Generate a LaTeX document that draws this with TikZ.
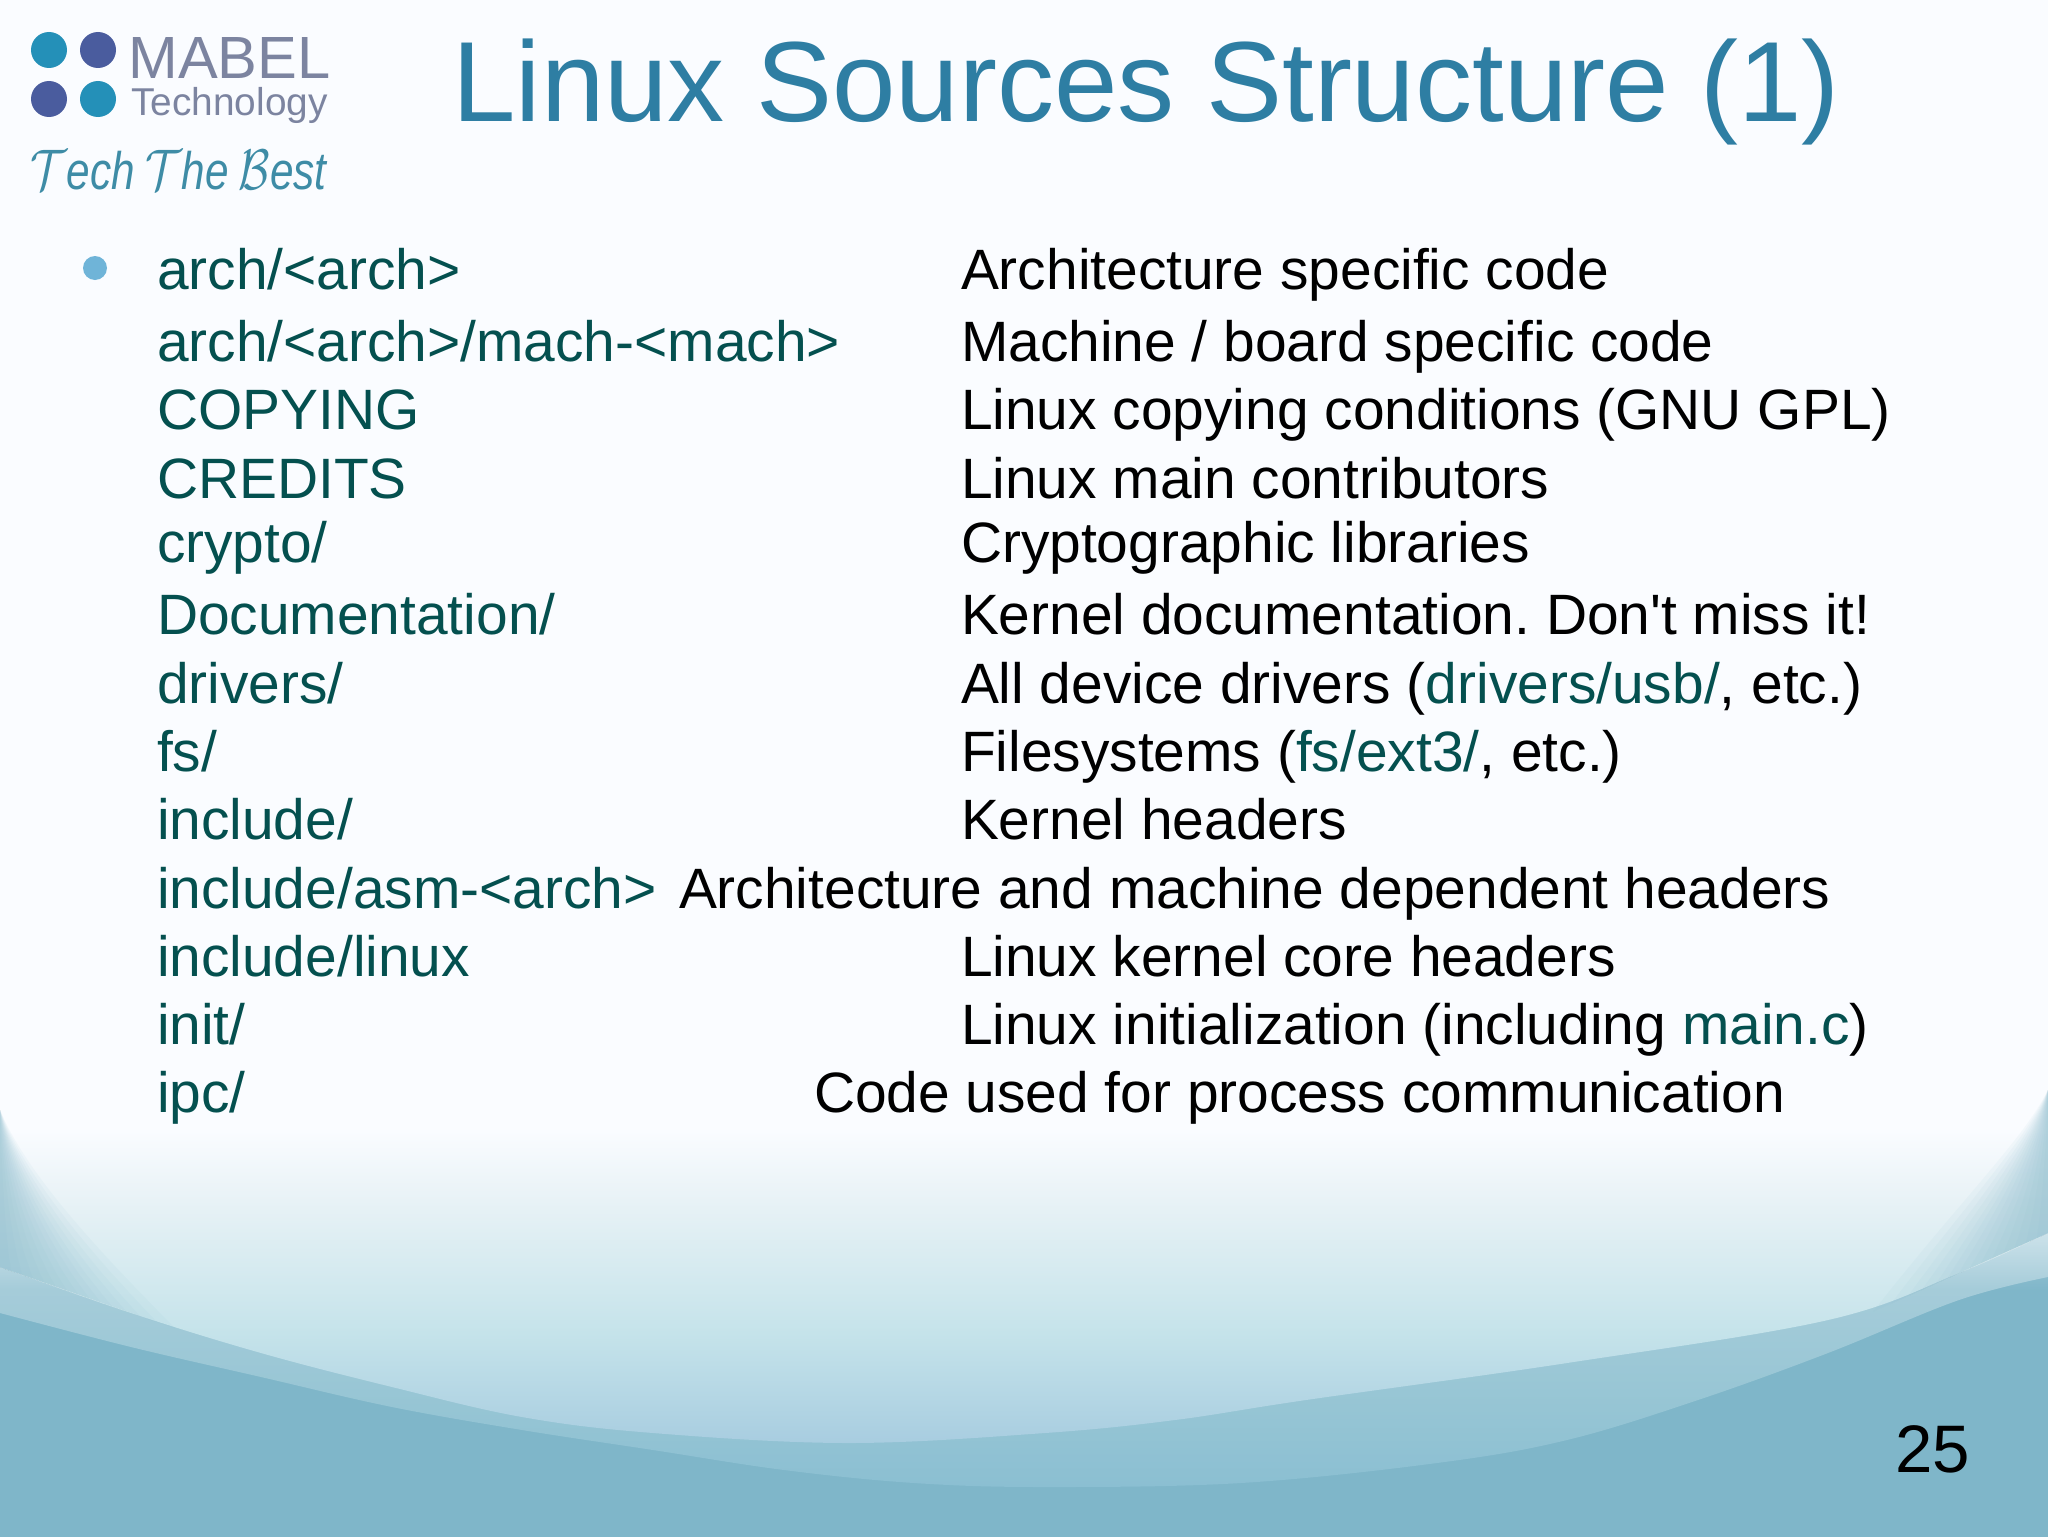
\documentclass[tikz,border=0pt]{standalone}
\usepackage{fontspec}
\setmainfont{Liberation Sans}
\usetikzlibrary{calc}
\definecolor{tealtext}{HTML}{04504F}
\definecolor{titleblue}{HTML}{2E7EA3}
\definecolor{bulletblue}{HTML}{6FB4D8}
\definecolor{dotteal}{HTML}{2490B8}
\definecolor{dotindigo}{HTML}{4A5C9E}
\definecolor{logogrey}{HTML}{7C84A0}
\definecolor{scriptteal}{HTML}{3E8CA6}
\definecolor{edgeteal}{HTML}{7FB6C9}
\definecolor{lensA}{HTML}{A8CDE0}
\definecolor{lensB}{HTML}{C5E3EA}
\definecolor{lensC}{HTML}{E8F2F6}
\definecolor{lensD}{HTML}{FAFCFF}
\definecolor{midA}{HTML}{96C5D4}
\definecolor{midB}{HTML}{8BBFD2}
\pgfdeclareverticalshading{basebg}{100bp}{
 color(0bp)=(edgeteal); color(25bp)=(edgeteal);
 color(33bp)=(edgeteal);
 color(36bp)=(edgeteal!50!white);
 color(38.4bp)=(lensD);
 color(75bp)=(lensD); color(100bp)=(lensD)}
% second lens: bbox y 1090..1487
\pgfdeclareverticalshading{lenstwo}{100bp}{
 color(0bp)=(midB); color(25bp)=(midB);
 color(35bp)=(midA);
 color(50bp)=(edgeteal!70!white);
 color(62bp)=(lensC);
 color(72bp)=(lensD); color(100bp)=(lensD)}
% inner lens: bbox y 1090..1443
\pgfdeclareverticalshading{lensone}{100bp}{
 color(0bp)=(lensA); color(25bp)=(lensA);
 color(40.6bp)=(lensB);
 color(59.4bp)=(lensC);
 color(69.3bp)=(lensD); color(100bp)=(lensD)}
\tikzset{
 rowtext/.style={anchor=base west,inner sep=0pt,outer sep=0pt,yshift=0.5pt,font=\fontsize{28.45}{30}\selectfont},
 pathtext/.style={rowtext,text=tealtext},
 desctext/.style={rowtext,text=black},
 logodot/.style={circle,inner sep=0pt,minimum size=18pt},
 sidefade/.style={fill=edgeteal,fill opacity=0.06,draw=none}
}
\newcommand{\tl}[1]{\textcolor{tealtext}{#1}}
\frenchspacing
\begin{document}
\begin{tikzpicture}[x=0.5pt,y=-0.5pt]
\useasboundingbox (0,0) rectangle (2048,1536);
\shade[shading=basebg] (0,0) rectangle (2048,1536);
\shade[shading=lenstwo] (2048,1090) -- (0,1090) -- plot[smooth,tension=0.6] coordinates {(0,1313) (131,1347) (261,1377) (392,1407) (522,1430) (653,1450) (784,1470) (914,1483) (1045,1487) (1241,1483) (1437,1463) (1567,1440) (1698,1400) (1828,1353) (1959,1300) (2048,1277)} -- cycle;
\shade[shading=lensone] (2048,1090) -- (0,1090) -- plot[smooth,tension=0.6] coordinates {(0,1267) (131,1313) (261,1353) (392,1387) (522,1417) (653,1433) (849,1443) (1045,1433) (1175,1420) (1306,1400) (1567,1363) (1828,1320) (1959,1273) (2048,1233)} -- cycle;
% soft darkening along both sides, closing on the arc of the inner lens
\foreach \w in {8,16,24,32,40,48,56,64,72,80,90,100,112,125}{
  \path[sidefade] (0,1110) .. controls ({0.2*\w},1170) and ({0.7*\w},1240) .. ({1.4*\w},{1267+0.49*\w}) -- (0,1267) -- cycle;
  \path[sidefade] (2048,1090) .. controls ({2048-0.2*\w},1140) and ({2048-0.7*\w},1200) .. ({2048-1.4*\w},{1233+0.63*\w}) -- (2048,1233) -- cycle;
}
% logo
\node[logodot,fill=dotteal] (d1) at (49,50) {};
\node[logodot,fill=dotindigo] (d2) at (98,50) {};
\node[logodot,fill=dotindigo] (d3) at (49,99) {};
\node[logodot,fill=dotteal] (d4) at (98,99) {};
\node[anchor=base west,inner sep=0pt,text=logogrey,font=\fontsize{29.8}{32}\selectfont] (mabel) at (128,79) {MABEL};
\node[anchor=base west,inner sep=0pt,text=logogrey,font=\fontsize{19.4}{22}\selectfont] (tech) at (131,115) {Technology};
\node[anchor=base west,inner sep=0pt,text=scriptteal,font=\fontsize{23}{28}\selectfont\itshape] (script) at (30,189) {\scalebox{0.92}[1.15]{$\mathcal{T}$ech\hspace{-1pt} $\mathcal{T}$he\hspace{-1pt} $\mathcal{B}$est}};
% title
\node[anchor=base west,inner sep=0pt,text=titleblue,font=\fontsize{57}{60}\selectfont] (title) at (452,121) {Linux Sources Structure (1)};
\node[circle,fill=bulletblue,inner sep=0pt,minimum size=12pt] (bullet) at (95,268) {};
% rows
\node[pathtext] (p1) at (157,290) {arch/<arch>};
\node[desctext] (q1) at (961,290) {Architecture specific code};
\node[pathtext] (p2) at (157,362) {arch/<arch>/mach-<mach>};
\node[desctext] (q2) at (961,362) {Machine / board specific code};
\node[pathtext] (p3) at (157,430) {COPYING};
\node[desctext] (q3) at (961,430) {Linux copying conditions (GNU GPL)};
\node[pathtext] (p4) at (157,499) {CREDITS};
\node[desctext] (q4) at (961,499) {Linux main contributors};
\node[pathtext] (p5) at (157,563) {crypto/};
\node[desctext] (q5) at (961,563) {Cryptographic libraries};
\node[pathtext] (p6) at (157,635) {Documentation/};
\node[desctext] (q6) at (961,635) {Kernel documentation. Don\textquotesingle t miss it!};
\node[pathtext] (p7) at (157,704) {drivers/};
\node[desctext] (q7) at (961,704) {All device drivers (\tl{drivers/usb/}, etc.)};
\node[pathtext] (p8) at (157,772) {fs/};
\node[desctext] (q8) at (961,772) {Filesystems (\tl{fs/ext3/}, etc.)};
\node[pathtext] (p9) at (157,840) {include/};
\node[desctext] (q9) at (961,840) {Kernel headers};
\node[pathtext] (p10) at (157,909) {include/asm-<arch>};
\node[desctext] (q10) at (679,909) {Architecture and machine dependent headers};
\node[pathtext] (p11) at (157,977) {include/linux};
\node[desctext] (q11) at (961,977) {Linux kernel core headers};
\node[pathtext] (p12) at (157,1045) {init/};
\node[desctext] (q12) at (961,1045) {Linux initialization (including \tl{main.c})};
\node[pathtext] (p13) at (157,1113) {ipc/};
\node[desctext] (q13) at (814,1113) {Code used for process communication};
\node[anchor=base west,inner sep=0pt,text=black,font=\fontsize{33.6}{40}\selectfont] (pagenum) at (1895,1472) {25};
\end{tikzpicture}
\end{document}
